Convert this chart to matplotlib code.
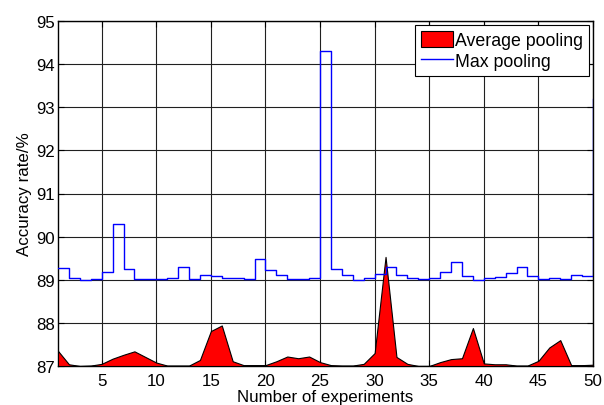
import numpy as np
import matplotlib
matplotlib.use("Agg")
import matplotlib.pyplot as plt

plt.rcParams['font.family'] = ['Liberation Sans', 'DejaVu Sans']

# experiment index
experiments = np.arange(1, 51)

# accuracy with average pooling (%)
avg_pooling = [87.35, 87.04, 87.00, 87.01, 87.05, 87.17, 87.26, 87.34, 87.21, 87.08,
               87.01, 87.01, 87.01, 87.14, 87.81, 87.94, 87.11, 87.02, 87.02, 87.02,
               87.11, 87.22, 87.18, 87.22, 87.09, 87.02, 87.01, 87.01, 87.05, 87.30,
               89.53, 87.21, 87.05, 87.00, 87.00, 87.09, 87.16, 87.18, 87.88, 87.06,
               87.04, 87.04, 87.01, 87.01, 87.12, 87.43, 87.60, 87.02, 87.02, 87.03]

# accuracy with max pooling (%)
max_pooling = [89.27, 89.03, 89.00, 89.02, 89.17, 90.29, 89.24, 89.02, 89.02, 89.02,
               89.05, 89.29, 89.02, 89.12, 89.08, 89.03, 89.03, 89.02, 89.48, 89.22,
               89.10, 89.02, 89.02, 89.04, 94.30, 89.26, 89.10, 89.00, 89.03, 89.13,
               89.29, 89.12, 89.05, 89.02, 89.05, 89.19, 89.42, 89.08, 89.00, 89.04,
               89.06, 89.16, 89.29, 89.08, 89.02, 89.04, 89.02, 89.10, 89.09, 93.20]

x_ticks = [5, 10, 15, 20, 25, 30, 35, 40, 45, 50]
y_ticks = [87, 88, 89, 90, 91, 92, 93, 94, 95]

fs = 12.2

fig = plt.figure(figsize=(6.04, 4.06), dpi=100)
ax = fig.add_axes([58/604, 39/406, 535/604, 345/406])

ax.fill_between(experiments, 87, avg_pooling, facecolor='#ff0000',
                edgecolor='black', linewidth=0.8, label='Average pooling', zorder=3)
ax.step(experiments, max_pooling, where='post', color='#0000ff',
        linewidth=1.0, label='Max pooling', zorder=4)

ax.set_xlim(1, 50)
ax.set_ylim(87, 95)
ax.set_xticks(x_ticks)
ax.set_yticks(y_ticks)
ax.grid(True, color='#202020', linewidth=0.8, linestyle='-')
ax.set_axisbelow(True)
ax.tick_params(direction='in', top=True, right=True, labelsize=fs,
               length=4, width=0.8, pad=5)
ax.tick_params(axis='y', pad=2)
for s in ax.spines.values():
    s.set_linewidth(1.0)
    s.set_color('black')

# the reference crops this label at the bottom edge; keep it just inside
ax.set_xlabel('Number of experiments', fontsize=fs, labelpad=0.5)
ax.set_ylabel('Accuracy rate/%', fontsize=fs, labelpad=3)

leg = ax.legend(loc='upper right', fontsize=12.8, frameon=True, fancybox=False,
                framealpha=1, edgecolor='black', borderpad=0.3, labelspacing=0.2,
                handlelength=1.8, handleheight=1.0, handletextpad=0.15,
                borderaxespad=0.25)
leg.get_frame().set_linewidth(0.8)

fig.savefig('out.png', dpi=100)
